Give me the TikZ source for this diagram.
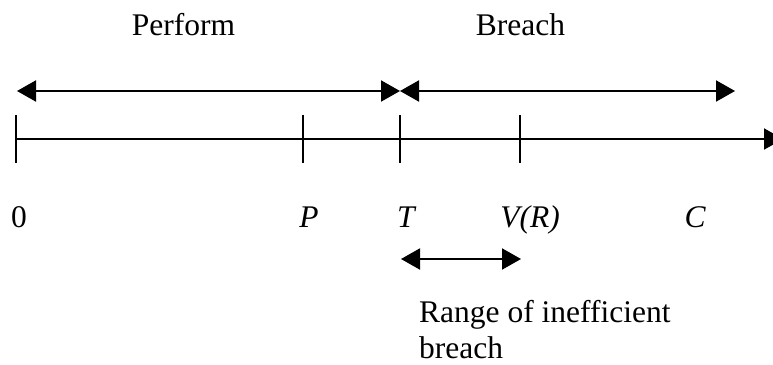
\documentclass[tikz,border=0pt]{standalone}
\usepackage{fontspec}
\setmainfont{Liberation Serif}
\usetikzlibrary{arrows.meta}
\begin{document}
\begin{tikzpicture}[x=1pt,y=-1pt,
  tickline/.style={line width=2pt},
  dbl/.style={line width=2pt, {Triangle[length=19pt,width=21pt]}-{Triangle[length=19pt,width=21pt]}},
  fwd/.style={line width=2pt, -{Triangle[length=19pt,width=21pt]}},
  lbl/.style={font=\fontsize{31.5}{36}\selectfont, inner sep=0pt, anchor=base},
  ilbl/.style={lbl, font=\fontsize{31.5}{36}\selectfont\itshape}]
\useasboundingbox (0,0) rectangle (773,364);
\clip (0,0) rectangle (773,364);
% headings
\node[lbl] (perform) at (183.5,35) {Perform};
\node[lbl] (breach) at (520.5,35) {Breach};
% top arrows
\coordinate (pl) at (17,91);
\coordinate (pm) at (400,91);
\coordinate (br) at (735,91);
\draw[dbl] (pl) -- (pm);
\draw[dbl] (pm) -- (br);
% axis
\coordinate (a0) at (16,139);
\coordinate (aend) at (783,139);
\draw[fwd] (a0) -- (aend);
% ticks
\foreach \n/\x in {t0/16, tP/303, tT/400, tV/520}{
  \coordinate (\n top) at (\x,115);
  \coordinate (\n bot) at (\x,163);
  \draw[tickline] (\n top) -- (\n bot);
}
% labels
\node[lbl] (l0) at (19,227) {0};
\node[ilbl] (lP) at (309,227) {P};
\node[ilbl] (lT) at (406,227) {T};
\node[ilbl] (lV) at (530,227) {V(R)};
\node[ilbl] (lC) at (695,227) {C};
% small arrow
\coordinate (sl) at (401,259);
\coordinate (sr) at (521,259);
\draw[dbl] (sl) -- (sr);
\node[lbl, anchor=base west, align=left] (range) at (419,358) {Range of inefficient\\breach};
\end{tikzpicture}
\end{document}
